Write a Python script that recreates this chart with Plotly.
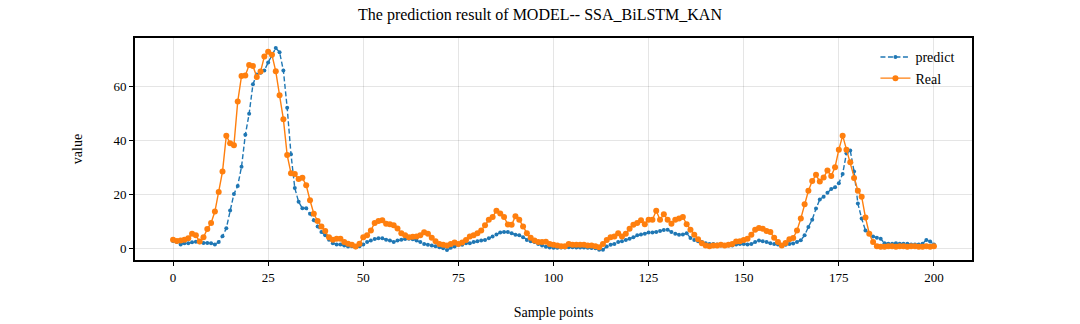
import plotly.graph_objects as go

sample_points = list(range(201))

predict = [
    2.9, 2.5, 1.6, 2.1, 2.1, 2.4, 2.6, 2.4, 2.2, 2.2,
    2.1, 1.6, 2.5, 4.7, 7.6, 14.2, 20.3, 23.3, 30.4, 42.2,
    50.0, 60.9, 64.5, 65.2, 66.0, 69.0, 71.5, 74.3, 72.8, 66.0,
    52.2, 35.0, 22.5, 17.4, 15.0, 15.0, 13.0, 10.6, 8.3, 6.2,
    5.0, 3.4, 2.1, 1.6, 1.6, 1.2, 0.9, 1.0, 0.6, 1.0,
    1.6, 2.5, 3.1, 3.6, 3.9, 3.9, 3.4, 3.1, 2.5, 3.1,
    3.4, 3.6, 3.7, 3.5, 3.1, 2.5, 1.8, 1.5, 1.2, 1.0,
    0.6, 0.2, -0.4, 0.4, 0.9, 1.5, 1.5, 2.1, 2.1, 2.5,
    2.8, 3.1, 3.3, 3.9, 4.6, 5.3, 6.0, 6.2, 6.2, 5.8,
    5.2, 5.0, 4.3, 3.3, 2.8, 2.5, 1.8, 1.2, 0.8, 0.5,
    0.4, 0.4, 0.5, 0.5, 0.6, 0.6, 0.5, 0.5, 0.5, 0.4,
    0.3, 0.2, -0.3, -0.3, 0.9, 1.5, 1.8, 2.5, 2.8, 3.3,
    3.7, 4.3, 5.0, 5.3, 5.6, 6.0, 6.0, 6.2, 6.6, 7.0,
    7.1, 6.2, 5.6, 5.2, 5.3, 5.8, 4.0, 3.3, 2.8, 2.5,
    2.1, 1.8, 1.8, 1.6, 1.2, 1.2, 1.2, 1.2, 1.6, 1.8,
    1.8, 1.6, 1.8, 2.5, 3.1, 2.8, 2.5, 2.1, 1.8, 1.6,
    1.2, 1.5, 1.8, 2.0, 2.5, 3.2, 5.0, 8.1, 10.8, 14.9,
    18.3, 19.3, 20.8, 22.1, 22.8, 24.3, 27.7, 35.4, 36.4, 28.6,
    16.8, 11.2, 6.8, 5.6, 4.6, 4.1, 3.7, 2.1, 1.9, 1.9,
    2.1, 1.9, 1.9, 1.9, 1.6, 1.6, 1.6, 1.9, 3.3, 2.7,
    1.6,
]

real = [
    3.4, 2.9, 3.1, 3.4, 3.9, 5.6, 5.0, 2.7, 4.3, 7.3,
    9.6, 13.8, 21.0, 28.6, 41.9, 39.1, 38.3, 54.5, 64.0, 64.2,
    68.0, 67.7, 63.6, 65.6, 71.2, 72.9, 71.8, 65.7, 56.8, 48.0,
    34.7, 28.0, 27.7, 25.8, 26.3, 23.5, 18.0, 13.0, 10.3, 8.3,
    6.6, 4.3, 3.4, 3.7, 3.7, 2.5, 1.9, 1.5, 0.9, 1.9,
    4.3, 5.0, 6.8, 9.6, 10.3, 10.6, 9.3, 9.1, 8.7, 7.5,
    5.8, 5.0, 4.3, 4.5, 4.6, 5.0, 6.1, 5.6, 4.1, 2.8,
    1.8, 1.5, 1.2, 1.8, 2.3, 1.8, 2.3, 3.3, 4.6, 5.0,
    5.8, 6.8, 8.7, 10.8, 11.8, 14.1, 13.1, 11.8, 9.0, 8.9,
    12.1, 10.8, 8.3, 5.8, 4.1, 3.1, 2.5, 2.5, 2.6, 1.8,
    1.5, 1.2, 1.0, 1.0, 1.8, 1.5, 1.5, 1.5, 1.5, 1.2,
    1.2, 1.0, 0.6, 1.8, 3.3, 4.3, 4.6, 5.8, 4.6, 5.6,
    7.4, 8.9, 9.6, 10.6, 9.1, 10.8, 10.8, 14.1, 10.8, 12.8,
    10.8, 9.3, 10.8, 11.2, 11.8, 9.1, 7.1, 5.2, 3.5, 2.1,
    1.2, 1.0, 1.2, 1.2, 1.5, 1.2, 1.5, 1.8, 2.7, 2.8,
    3.3, 3.7, 5.2, 7.1, 7.7, 7.4, 6.6, 6.2, 4.1, 2.5,
    1.2, 2.2, 3.5, 4.0, 6.8, 11.2, 16.5, 21.5, 25.1, 27.4,
    24.9, 26.4, 29.0, 27.0, 30.2, 36.7, 41.9, 36.7, 32.0, 26.2,
    21.5, 19.3, 11.6, 5.6, 2.5, 1.0, 0.8, 0.8, 1.0, 1.0,
    0.8, 1.0, 1.0, 0.8, 1.0, 1.0, 0.8, 0.8, 1.0, 0.8,
    1.0,
]

x_ticks = [0, 25, 50, 75, 100, 125, 150, 175, 200]
y_ticks = [0, 20, 40, 60]

SERIF = "Liberation Serif, Times New Roman, serif"

fig = go.Figure()
fig.add_trace(go.Scatter(
    x=sample_points, y=predict, name="predict", mode="lines+markers",
    line=dict(color="#1f77b4", width=1.4, dash="5px,2.5px"),
    marker=dict(color="#1f77b4", size=4),
))
fig.add_trace(go.Scatter(
    x=sample_points, y=real, name="Real", mode="lines+markers",
    line=dict(color="#ff7f0e", width=1.4),
    marker=dict(color="#ff7f0e", size=6),
))

ymin = min(min(predict), min(real))
ymax = max(max(predict), max(real))
pad = (ymax - ymin) * 0.05

axis_common = dict(
    showline=True, linecolor="black", linewidth=2, mirror=True,
    ticks="outside", ticklen=4, tickwidth=1.2, tickcolor="black",
    showgrid=True, gridcolor="rgba(0,0,0,0.10)", gridwidth=1,
    zeroline=False, automargin=False,
    tickfont=dict(family=SERIF, size=13, color="black"),
)

fig.update_layout(
    width=1080, height=324,
    margin=dict(l=135, r=108, t=38, b=64),
    paper_bgcolor="white", plot_bgcolor="white",
    title=dict(text="The prediction result of MODEL-- SSA_BiLSTM_KAN",
               x=0.5, xanchor="center", y=1 - 14 / 324, yanchor="middle",
               yref="container",
               font=dict(family=SERIF, size=16, color="black")),
    xaxis=dict(range=[-10, 210], tickvals=x_ticks,
               title=dict(text="Sample points", standoff=24,
                          font=dict(family=SERIF, size=14, color="black")),
               **axis_common),
    yaxis=dict(range=[ymin - pad, ymax + pad], tickvals=y_ticks,
               title=dict(text="value", standoff=28,
                          font=dict(family=SERIF, size=14, color="black")),
               **axis_common),
    legend=dict(x=0.985, y=0.985, xanchor="right", yanchor="top",
                bgcolor="rgba(255,255,255,0)", borderwidth=0,
                font=dict(family=SERIF, size=14, color="black"),
                itemwidth=30, tracegroupgap=0),
    showlegend=True,
)

fig.write_html("out.html")
